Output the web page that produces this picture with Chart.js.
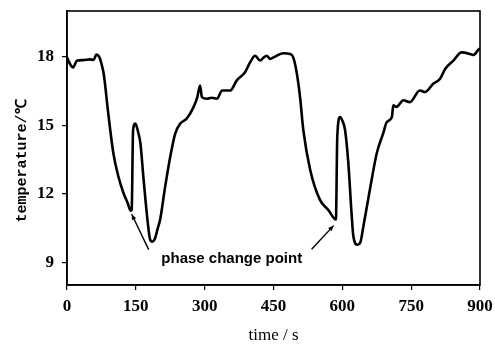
<!DOCTYPE html>
<html>
<head>
<meta charset="utf-8">
<script src="https://cdn.jsdelivr.net/npm/chart.js@4/dist/chart.umd.min.js"></script>
<style>
html,body{margin:0;padding:0;background:#fff;}
#wrap{width:495px;height:344px;position:relative;}
</style>
</head>
<body>
<div id="wrap"><canvas id="c" width="495" height="344"></canvas></div>
<script>
// ---- data ----
const timeS = [0,6,13,22,35,50,58,64,70,75,80,90,101,112,123,132,139,141,144,149,155,160,167,176,181,186,191,198,203,214,225,236,247,261,276,284,290,294,305,315,327,338,356,370,388,399,410,421,428,435,443,450,472,486,493,501,508,515,530,551,570,586,589,595,600,606,613,620,624,633,639,646,660,675,689,697,708,711,718,733,747,769,780,798,813,824,842,860,878,885,898,900];
const tempC = [17.97,17.7,17.53,17.83,17.85,17.88,17.86,18.09,18.0,17.7,17.25,15.5,13.77,12.75,12.03,11.6,11.25,11.3,14.78,15.07,14.7,14.2,12.6,10.73,10.0,9.9,10.0,10.5,10.87,12.32,13.62,14.64,15.07,15.29,15.8,16.23,16.74,16.23,16.16,16.2,16.16,16.52,16.52,16.96,17.32,17.75,18.04,17.83,17.95,18.04,17.9,17.97,18.15,18.12,17.97,17.25,16.2,14.78,13.04,11.74,11.27,10.87,14.49,15.36,15.2,14.78,13.36,11.17,10.14,9.76,9.85,10.58,12.17,13.77,14.64,15.14,15.36,15.87,15.8,16.09,16.01,16.52,16.45,16.81,17.03,17.46,17.83,18.19,18.12,18.07,18.33,18.35];
const xTicks = [0,150,300,450,600,750,900];
const yTicks = [9,12,15,18];
const xTitle = 'time / s';
const yTitle = 'temperature/\u2103';
const noteText = 'phase change point';
const noteAt = [359, 9.13];
// arrows: [tailTime, tailTemp, headTime, headTemp]
const arrowA = [178, 9.55, 141, 11.1];
const arrowB = [533, 9.57, 581, 10.6];

const points = timeS.map((t,i)=>({x:t,y:tempC[i]}));

const deco = {
  id:'deco',
  afterDraw(chart){
    const {ctx, chartArea:a, scales:{x,y}} = chart;
    ctx.save();
    // frame
    ctx.strokeStyle='#000'; ctx.lineWidth=1.6;
    ctx.strokeRect(a.left, a.top, a.right-a.left, a.bottom-a.top);
    // arrows
    ctx.lineWidth=1.4;
    [arrowA, arrowB].forEach(ar=>{
      const x1=x.getPixelForValue(ar[0]), y1=y.getPixelForValue(ar[1]);
      const x2=x.getPixelForValue(ar[2]), y2=y.getPixelForValue(ar[3]);
      ctx.beginPath(); ctx.moveTo(x1,y1); ctx.lineTo(x2,y2); ctx.stroke();
      const ang=Math.atan2(y2-y1,x2-x1), L=6, w=0.4;
      ctx.beginPath();
      ctx.moveTo(x2,y2);
      ctx.lineTo(x2-L*Math.cos(ang-w), y2-L*Math.sin(ang-w));
      ctx.lineTo(x2-L*Math.cos(ang+w), y2-L*Math.sin(ang+w));
      ctx.closePath(); ctx.fillStyle='#000'; ctx.fill();
    });
    // note
    ctx.fillStyle='#000';
    ctx.font='bold 15px "Liberation Sans", Arial, sans-serif';
    ctx.textAlign='center'; ctx.textBaseline='middle';
    ctx.fillText(noteText, x.getPixelForValue(noteAt[0]), y.getPixelForValue(noteAt[1]));
    // axis titles
    ctx.font='17px "Liberation Serif", "Times New Roman", serif';
    ctx.fillText(xTitle, (a.left+a.right)/2, 336);
    ctx.translate(22, 161);
    ctx.rotate(-Math.PI/2);
    ctx.font='bold 15px "Liberation Mono", "DejaVu Sans Mono", monospace';
    ctx.fillText(yTitle, 0, 0);
    ctx.restore();
  }
};

new Chart(document.getElementById('c'), {
  type:'line',
  data:{datasets:[{data:points, borderColor:'#000', borderWidth:2.6, pointRadius:0, cubicInterpolationMode:'monotone', fill:false, borderJoinStyle:'round'}]},
  options:{
    responsive:false, animation:false, devicePixelRatio:1,
    layout:{padding:{left:0,top:11,right:15,bottom:0}},
    plugins:{legend:{display:false}, tooltip:{enabled:false}},
    scales:{
      x:{type:'linear', min:0, max:900,
        afterBuildTicks(s){ s.ticks = xTicks.map(v=>({value:v})); },
        afterFit(s){ s.height = 59; s.paddingLeft = 0; s.paddingRight = 0; },
        grid:{drawOnChartArea:false, drawTicks:true, tickLength:5, color:'#000', lineWidth:1.2},
        border:{display:true, color:'#000', width:1.6},
        ticks:{color:'#000', padding:6, maxRotation:0, font:{family:'"Liberation Serif", "Times New Roman", serif', size:17, weight:'bold'}}
      },
      y:{type:'linear', min:8, max:20,
        afterBuildTicks(s){ s.ticks = yTicks.map(v=>({value:v})); },
        afterFit(s){ s.width = 67; s.paddingTop = 0; s.paddingBottom = 0; },
        grid:{drawOnChartArea:false, drawTicks:true, tickLength:5, color:'#000', lineWidth:1.2},
        border:{display:true, color:'#000', width:1.6},
        ticks:{color:'#000', padding:8, font:{family:'"Liberation Serif", "Times New Roman", serif', size:17, weight:'bold'}}
      }
    }
  },
  plugins:[deco]
});
</script>
</body>
</html>
